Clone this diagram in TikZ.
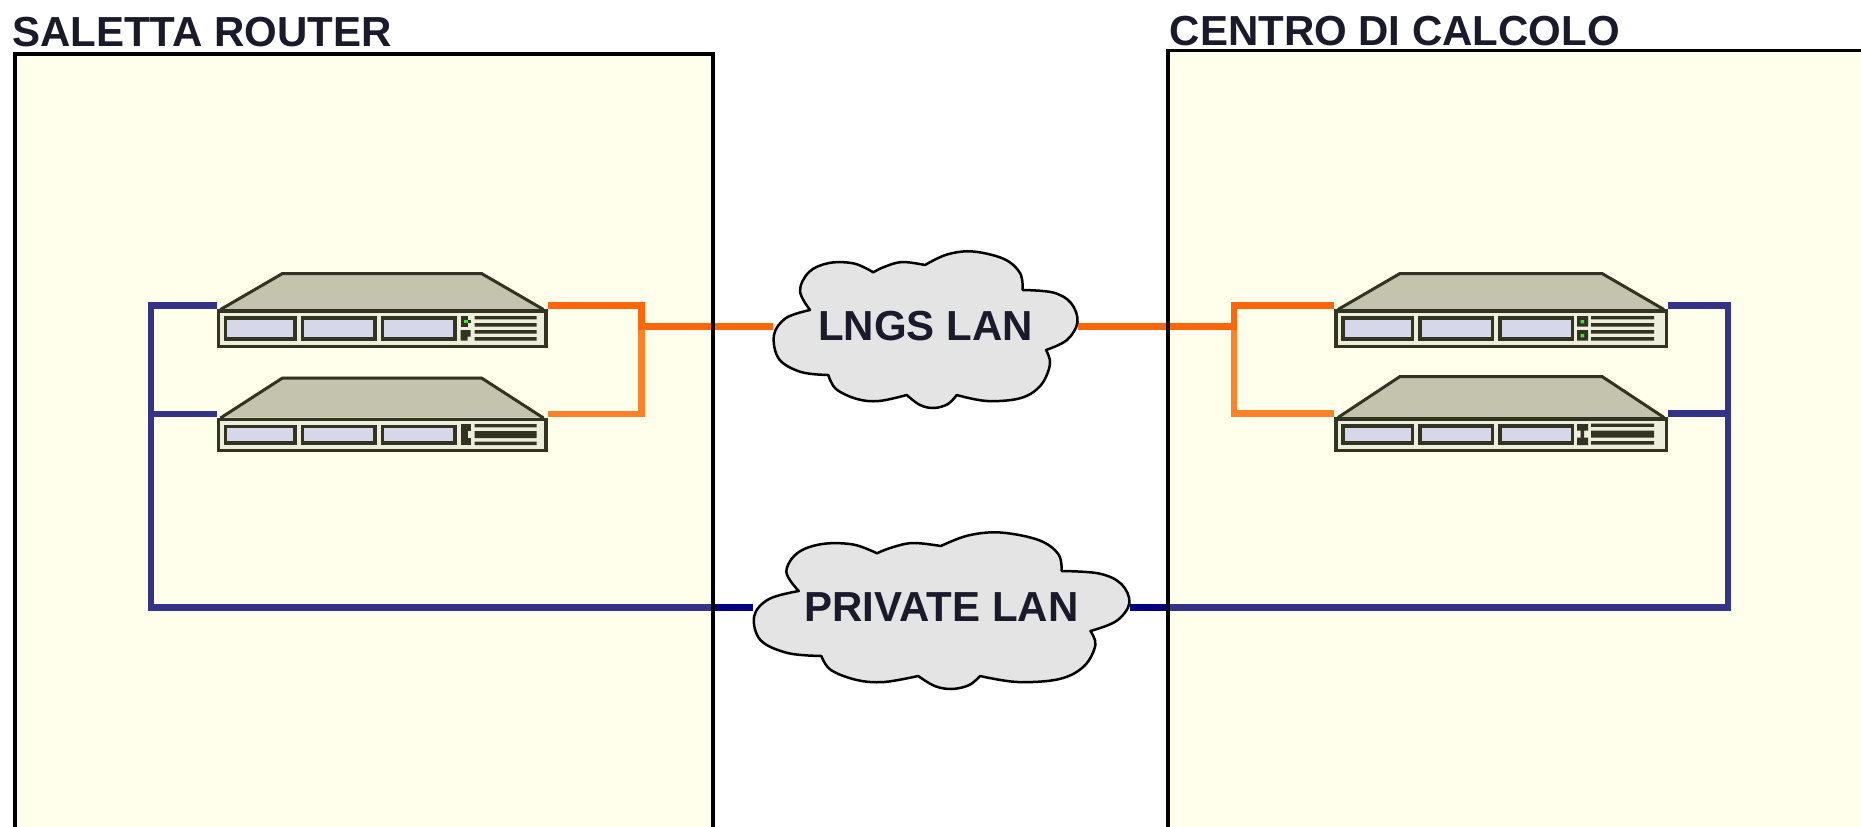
\documentclass[tikz,border=0pt]{standalone}
\usepackage{fontspec}
\setmainfont{Liberation Sans}
\usetikzlibrary{calc}
\definecolor{boxfill}{HTML}{FFFFEB}
\definecolor{rdark}{HTML}{333322}
\definecolor{rplate}{HTML}{C4C3AE}
\definecolor{rfront}{HTML}{EEEEDD}
\definecolor{rslot}{HTML}{D6D8EA}
\definecolor{rled}{HTML}{33EE33}
\definecolor{orA}{HTML}{FF6608}
\definecolor{orB}{HTML}{FF8228}
\definecolor{blA}{HTML}{333388}
\definecolor{navyX}{HTML}{000080}
\definecolor{cloudfill}{HTML}{E4E4E4}
\definecolor{txt}{HTML}{1A1A2A}
\pgfdeclarelayer{bg}
\pgfdeclarelayer{lines}
\pgfsetlayers{bg,lines,main}
\tikzset{
  roomfill/.style={fill=boxfill, draw=none, inner sep=0pt, outer sep=0pt, anchor=north west},
  roomline/.style={draw=black, line width=3.5pt, line join=miter},
  conn/.style={line width=6.5pt, line join=miter},
  title/.style={font=\bfseries\fontsize{42}{50}\selectfont, text=txt, inner sep=0pt, anchor=base west},
  cloudnode/.style={font=\bfseries\fontsize{42}{50}\selectfont, text=txt, inner sep=0pt, outer sep=0pt, text height=30pt, text depth=8pt, minimum height=157pt},
  cloudline/.style={draw=black, line width=2.5pt, fill=cloudfill, line join=round},
  rfrontst/.style={draw=rdark, fill=rfront, line width=3.5pt, inner sep=0pt, outer sep=1.75pt, anchor=north west},
  rslotst/.style={draw=rdark, fill=rslot, line width=3.5pt},
  lobe/.style={smooth, tension=0.6},
}
% cloud outline in local coordinates (305 x 157 box, y downwards)
\newcommand\cloudoutline{%
  \filldraw[cloudline]
    plot[lobe] coordinates {(37,59) (13,67) (1,84) (6,108) (28,121) (55.3,124)}
    -- plot[lobe] coordinates {(55.3,124) (63,138) (84,148) (106,150) (133.7,144)}
    -- plot[lobe] coordinates {(133.7,144) (147,154) (161,157) (175,153) (183.7,144)}
    -- plot[lobe] coordinates {(183.7,144) (214,150) (248,147) (268,134) (277,113) (273,99)}
    -- plot[lobe] coordinates {(273,99) (294,89) (304.5,71) (298,52) (280,41.5) (249.7,39)}
    -- plot[lobe] coordinates {(249.7,39) (247,22) (231,8) (200,0.5) (174,3.5) (152,14)}
    -- plot[lobe] coordinates {(152,14) (129,11) (111,16) (100.3,21.3)}
    -- plot[lobe] coordinates {(100.3,21.3) (81,12.5) (56,12) (36,21) (27,40) (37,59)}
    -- cycle;}
% name, x, y (front top), W, plate height, front height, extras
\newcommand\routericon[7]{%
  \begin{scope}[shift={(#2,#3)}]
    \fill[rplate] (3,0) -- (66,-#5) -- (#4-66,-#5) -- (#4-3,0) -- cycle;
    \draw[rdark, line width=3pt, line join=miter] (4,0.5) -- (66,-#5+1.5) -- (#4-66,-#5+1.5) -- (#4-4,0.5);
    \node[rfrontst, minimum width={#4-3.5}, minimum height={#6-3.5}] (#1) at (0,0) {};
    \filldraw[rslotst] (8.75,8.75) rectangle (78.25,#6-9.25);
    \filldraw[rslotst] (85.75,8.75) rectangle (158.25,#6-9.25);
    \filldraw[rslotst] (165.75,8.75) rectangle (238.25,#6-9.25);
    #7
  \end{scope}}
\newcommand\fourlines[2]{\fill[rdark] (#1,7) rectangle (#2,10.3) (#1,14) rectangle (#2,17.7) (#1,21) rectangle (#2,24.7) (#1,28) rectangle (#2,31.7);}
\newcommand\threelines[2]{\fill[rdark] (#1,6.5) rectangle (#2,9.8) (#1,13.5) rectangle (#2,20.5) (#1,24) rectangle (#2,27.7);}
\begin{document}
\begin{tikzpicture}[x=1pt,y=-1pt]
\useasboundingbox (0,0) rectangle (1861,827);
\clip (0,0) rectangle (1861,827);
\begin{pgfonlayer}{bg}
  \fill[white] (0,0) rectangle (1861,827);
  \node[roomfill, minimum width=698pt, minimum height=850pt] (roomL) at (15,54) {};
  \node[roomfill, minimum width=800pt, minimum height=850pt] (roomR) at (1168,50.5) {};
\end{pgfonlayer}

% routers
\routericon{L1}{216.5}{309}{331}{37}{39}{%
  \fill[rdark] (244,7) rectangle (251,17.7);
  \fill[rled] (247,11) rectangle (251,14.3);
  \fill[rdark] (251,11) rectangle (254,14.3);
  \fill[rdark] (244,21) rectangle (254,27.7) (244,27.7) rectangle (251,31.7);
  \fourlines{258}{320}}
\routericon{L2}{216.5}{417.5}{331}{41}{34.5}{%
  \fill[rdark] (244,6.5) rectangle (254,27.5);
  \fill[rfront] (251,13.5) rectangle (254,20.2);
  \threelines{258}{320}}
\routericon{R1}{1334}{309}{334}{37}{39}{%
  \fill[rdark] (243,7) rectangle (254,17.7) (243,21) rectangle (254,31.7);
  \fill[rled] (246.7,11) rectangle (250,14.3) (246.7,25) rectangle (250,28.3);
  \fourlines{257}{320}}
\routericon{R2}{1334}{417}{334}{42}{35}{%
  \fill[rdark] (243,7) rectangle (254,13.7) (246.7,13.7) rectangle (250,20.7) (243,20.7) rectangle (254,28);
  \threelines{257}{320}}

% clouds
\begin{scope}[shift={(773,251)}]
  \cloudoutline
\end{scope}
\begin{scope}[shift={(753,532)}, xscale=1.236]
  \cloudoutline
\end{scope}
\node[cloudnode, minimum width=305pt] (lngs) at (925.5,329.5) {LNGS LAN};
\node[cloudnode, minimum width=377pt] (priv) at (941.5,610.5) {PRIVATE LAN};

% connectors
\coordinate (jL) at (641.5,326.5);
\coordinate (jR) at (1234,326.5);
\coordinate (bL) at (151,607.5);
\coordinate (bR) at (1728,607.5);
\begin{pgfonlayer}{lines}
  \draw[conn, orB] ([yshift=3.5pt]L2.north east) -| (jL);
  \draw[conn, orA] ([yshift=3.5pt]L1.north east) -| (jL) -- (jL -| lngs.west);
  \draw[conn, orB] ([yshift=3.5pt]R2.north west) -| (jR);
  \draw[conn, orA] ([yshift=3.5pt]R1.north west) -| (jR) -- (jR -| lngs.east);
  \draw[conn, blA] ([yshift=3.5pt]L2.north west) -| (bL);
  \draw[conn, blA] ([yshift=3.5pt]L1.north west) -| (bL) -- (bL -| roomL.east);
  \draw[conn, navyX] (bL -| roomL.east) -- (bL -| priv.west);
  \draw[conn, blA] ([yshift=3.5pt]R2.north east) -| (bR);
  \draw[conn, blA] ([yshift=3.5pt]R1.north east) -| (bR) -- (bR -| roomR.west);
  \draw[conn, navyX] (bR -| roomR.west) -- (bR -| priv.east);
\end{pgfonlayer}

% room borders
\draw[roomline] (roomL.south west) -- (roomL.north west) -- (roomL.north east) -- (roomL.south east);
\draw[roomline] (roomR.south west) -- (roomR.north west) -- (roomR.north east);

% titles
\node[title] (tL) at (12,46) {SALETTA ROUTER};
\node[title] (tR) at (1169.5,45) {CENTRO DI CALCOLO};
\end{tikzpicture}
\end{document}
